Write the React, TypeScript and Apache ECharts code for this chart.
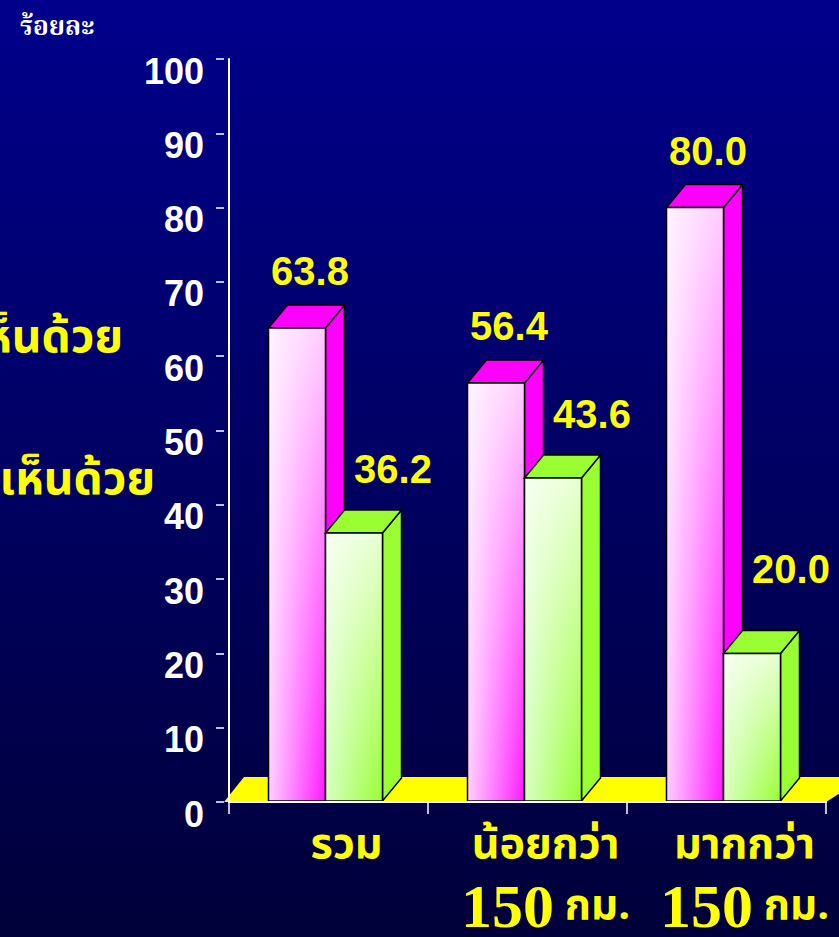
import React, { useEffect, useRef } from "react";
import * as echarts from "echarts";

const categories = ["รวม", "น้อยกว่า", "มากกว่า"];
const categorySub = ["", "150", "150"];
const agree = [63.8, 56.4, 80.0];
const disagree = [36.2, 43.6, 20.0];
const yTicks = { min: 0, max: 100, interval: 10 };
const legendNames = ["เห็นด้วย", "ไม่เห็นด้วย"];
const unitLabel = "ร้อยละ";

const THAI = '"Noto Sans Thai", "Noto Sans", "DejaVu Sans", sans-serif';
const NUM = '"Liberation Sans", Arial, sans-serif';

const DX = 19;
const DY = -23;
const BAR_W = 57;

function box(x0: number, x1: number, yt: number, yb: number, faceFrom: string, faceTo: string, sideColor: string) {
  const stroke = { stroke: "#000", lineWidth: 1.5 };
  return [
    {
      type: "polygon",
      shape: { points: [[x1, yt], [x1 + DX, yt + DY], [x1 + DX, yb + DY], [x1, yb]] },
      style: { fill: sideColor, ...stroke },
    },
    {
      type: "polygon",
      shape: { points: [[x0, yt], [x0 + DX, yt + DY], [x1 + DX, yt + DY], [x1, yt]] },
      style: { fill: sideColor, ...stroke },
    },
    {
      type: "rect",
      shape: { x: x0, y: yt, width: x1 - x0, height: yb - yt },
      style: {
        fill: new echarts.graphic.LinearGradient(0, 0, 1, 0, [
          { offset: 0, color: faceFrom },
          { offset: 1, color: faceTo },
        ]),
      },
    },
    {
      type: "rect",
      shape: { x: x0, y: yt, width: x1 - x0, height: yb - yt },
      style: {
        fill: new echarts.graphic.LinearGradient(0, 0, 0, 1, [
          { offset: 0, color: "rgba(255,255,255,0.78)" },
          { offset: 1, color: "rgba(255,255,255,0)" },
        ]),
        ...stroke,
      },
    },
  ];
}

export default function App() {
  const ref = useRef<HTMLDivElement>(null);
  useEffect(() => {
    if (!ref.current) return;
    const chart = echarts.init(ref.current, null, { renderer: "svg" });
    const data = categories.map((c, i) => [i, agree[i], disagree[i]]);
    chart.setOption({
      animation: false,
      backgroundColor: new echarts.graphic.LinearGradient(0, 0, 0, 1, [
        { offset: 0, color: "#00008c" },
        { offset: 1, color: "#00003a" },
      ]),
      grid: { left: 229, right: 13, top: 59, bottom: 131 },
      xAxis: {
        type: "category",
        data: categories,
        z: 5,
        axisLine: { lineStyle: { color: "#ffffff", width: 2 } },
        axisTick: { show: true, length: 12, lineStyle: { color: "#ffffff", width: 1.5 } },
        axisLabel: {
          margin: 17,
          interval: 0,
          padding: [0, 0, 0, 36],
          formatter: (v: string, i: number) =>
            categorySub[i] ? `{a|${v}}\n{n|${categorySub[i]}}{b| กม.}` : `{a|${v}}`,
          rich: {
            a: { fontFamily: THAI, fontWeight: "bold", fontSize: 43, color: "#ffff00", lineHeight: 50 },
            n: { fontFamily: '"Liberation Serif", "Times New Roman", serif', fontWeight: "bold", fontSize: 62, color: "#ffff00", lineHeight: 74 },
            b: { fontFamily: THAI, fontWeight: "bold", fontSize: 42, color: "#ffff00", lineHeight: 74 },
          },
        },
      },
      yAxis: [
        {
          type: "value",
          min: yTicks.min,
          max: yTicks.max,
          interval: yTicks.interval,
          z: 5,
          axisLine: { show: true, lineStyle: { color: "#ffffff", width: 2 } },
          axisTick: { show: false },
          axisLabel: { show: false },
          splitLine: { show: false },
        },
        {
          type: "value",
          min: yTicks.min,
          max: yTicks.max,
          interval: yTicks.interval,
          position: "left",
          offset: 5,
          z: 5,
          axisLine: { show: false },
          axisTick: { show: true, length: 8, lineStyle: { color: "#ffffff", width: 1.5 } },
          axisLabel: {
            margin: 20,
            color: "#ffffff",
            fontFamily: NUM,
            fontWeight: "bold",
            fontSize: 36,
            verticalAlign: "top",
            lineHeight: 24,
          },
          splitLine: { show: false },
        },
      ],
      graphic: [
        {
          type: "text",
          left: 20,
          top: 15,
          style: { text: unitLabel, fill: "#ffffff", font: 'bold 26px "Noto Serif Thai", serif' },
        },
        {
          type: "text",
          x: 123,
          y: 338,
          style: { text: legendNames[0], fill: "#ffff00", font: `bold 46px ${THAI}`, align: "right", verticalAlign: "middle" },
        },
        {
          type: "text",
          x: 155,
          y: 480,
          style: { text: legendNames[1], fill: "#ffff00", font: `bold 46px ${THAI}`, align: "right", verticalAlign: "middle" },
        },
      ],
      series: [
        {
          type: "custom",
          z: 1,
          data: [[0]],
          renderItem: (params: any, api: any) => {
            const cs = params.coordSys;
            const y0 = api.coord([0, 0])[1];
            const xl = cs.x - 5;
            const xr = cs.x + cs.width;
            return {
              type: "polygon",
              shape: { points: [[xl, y0], [xl + DX + 1, y0 + DY - 2], [xr + DX + 20, y0 + DY - 2], [xr, y0]] },
              style: { fill: "#ffff00" },
            };
          },
        },
        {
          type: "custom",
          z: 2,
          data,
          encode: { x: 0, y: [1, 2] },
          renderItem: (params: any, api: any) => {
            const idx = api.value(0);
            const a = api.value(1);
            const d = api.value(2);
            const cx = api.coord([idx, 0])[0];
            const yb = api.coord([idx, 0])[1] - 1;
            const ya = api.coord([idx, a])[1];
            const yd = api.coord([idx, d])[1];
            const p0 = cx - 60;
            const p1 = p0 + BAR_W;
            const g0 = p1;
            const g1 = g0 + BAR_W;
            const nudge = d < 25 ? 20 : 0;
            return {
              type: "group",
              children: [
                ...box(p0, p1, ya, yb, "#ffd0ff", "#ff18ff", "#ff00ff"),
                ...box(g0, g1, yd, yb, "#d8ffc0", "#99ff33", "#99ff33"),
                {
                  type: "text",
                  style: {
                    x: (p0 + p1) / 2 + 13,
                    y: ya - 57,
                    text: a.toFixed(1),
                    fill: "#ffff00",
                    font: `bold 40px ${NUM}`,
                    align: "center",
                    verticalAlign: "middle",
                  },
                },
                {
                  type: "text",
                  style: {
                    x: (g0 + g1) / 2 + 39,
                    y: yd - 64 - nudge,
                    text: d.toFixed(1),
                    fill: "#ffff00",
                    font: `bold 40px ${NUM}`,
                    align: "center",
                    verticalAlign: "middle",
                  },
                },
              ],
            };
          },
        },
      ],
    });
    return () => chart.dispose();
  }, []);
  return <div ref={ref} style={{ position: "fixed", left: 0, top: 0, width: 839, height: 937 }} />;
}
